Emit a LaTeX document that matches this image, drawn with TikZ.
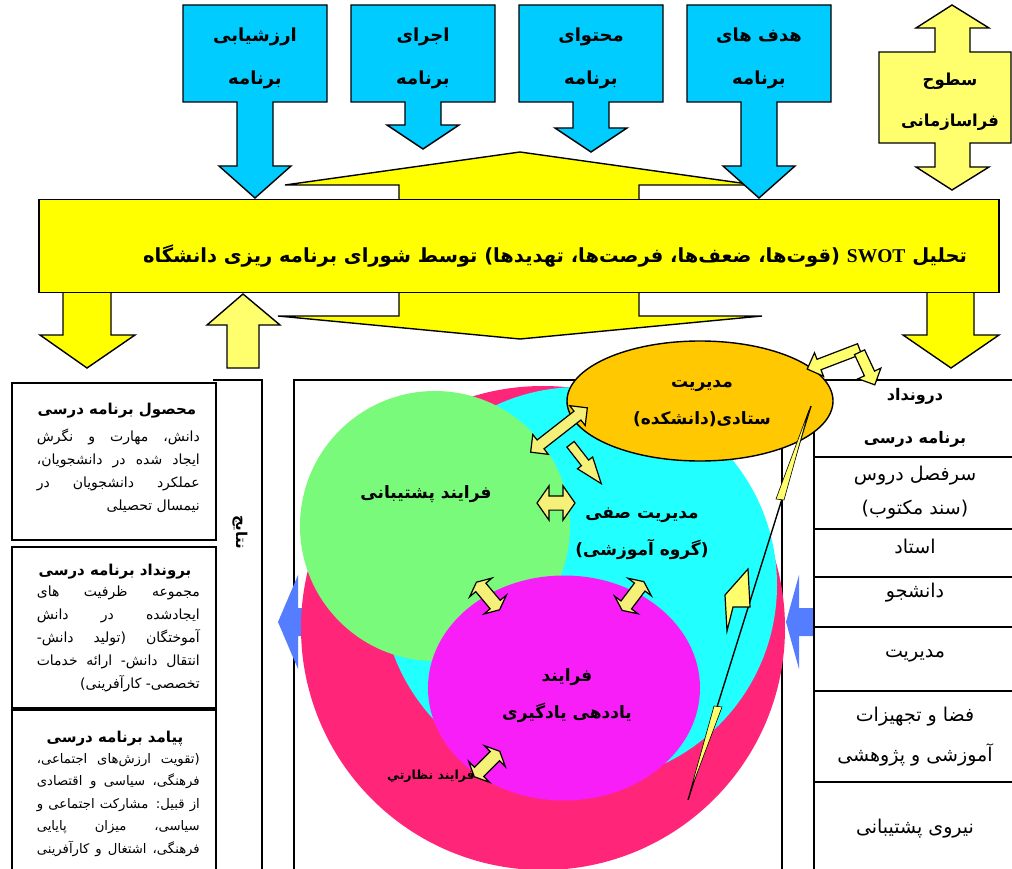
\documentclass[tikz,border=0pt]{standalone}
\usepackage{fontspec}
\newfontfamily\arabicfont[Script=Arabic]{DejaVu Sans}
\newfontfamily\latinfont{Liberation Serif}
\TeXXeTstate=1
\usetikzlibrary{shapes.geometric,shapes.arrows}

\definecolor{skyblue}{RGB}{0,204,255}
\definecolor{swotyellow}{RGB}{255,255,0}
\definecolor{paleyellow}{RGB}{255,255,110}
\definecolor{arrowyellow}{RGB}{245,240,120}
\definecolor{outerred}{RGB}{255,38,122}
\definecolor{innercyan}{RGB}{34,255,255}
\definecolor{leafgreen}{RGB}{122,250,122}
\definecolor{learnmagenta}{RGB}{248,30,248}
\definecolor{staffgold}{RGB}{255,200,0}
\definecolor{sideblue}{RGB}{85,125,255}

\newcommand{\fa}[1]{{\arabicfont\beginR #1\endR}}
% one justified line of a box text
\newcommand{\jline}[1]{\hbox to 163pt{\arabicfont\beginR #1\endR}}
% box with a down arrow under it: centre x, head top y, tip y
\newcommand{\downcallout}[3]{%
  \draw[calloutbox] (#1-72,5) -- (#1+72,5) -- (#1+72,102) -- (#1+18,102) -- (#1+18,#2)
    -- (#1+36,#2) -- (#1,#3) -- (#1-36,#2) -- (#1-18,#2) -- (#1-18,102) -- (#1-72,102) -- cycle;}

\tikzset{
  calloutbox/.style={draw=black,line width=1.4pt,fill=skyblue},
  blockarrow/.style={draw=black,line width=1.4pt,fill=swotyellow},
  smallarrow/.style={draw=black,line width=1.2pt,fill=arrowyellow,inner xsep=0pt},
  beam/.style={smallarrow,double arrow,minimum height=36,inner ysep=6pt,double arrow head extend=8,double arrow tip angle=130},
  headtext/.style={font=\bfseries\fontsize{18}{43}\selectfont,align=center},
  boxtitle/.style={font=\bfseries\fontsize{15}{20}\selectfont},
  boxbody/.style={font=\fontsize{14}{22.8}\selectfont,align=right,anchor=north east,inner sep=0pt},
  rowtext/.style={font=\fontsize{19}{34}\selectfont,align=center},
  circletext/.style={font=\bfseries\fontsize{17}{37}\selectfont,align=center},
}

\begin{document}
\begin{tikzpicture}[x=1pt,y=-1pt,line join=miter]
\useasboundingbox (0,0) rectangle (1012,869);

% yellow arrows through the SWOT box
\draw[blockarrow] (399,201) -- (399,185) -- (285,185) -- (520,152) -- (755,185) -- (639,185) -- (639,201);
\draw[blockarrow] (399,291) -- (399,316) -- (278,316) -- (520,339) -- (762,316) -- (639,316) -- (639,291);
\draw[blockarrow] (63,291) -- (63,335) -- (40,335) -- (87,368) -- (135,335) -- (111,335) -- (111,291);
\draw[blockarrow] (927,291) -- (927,335) -- (903,335) -- (951,368) -- (999,335) -- (974,335) -- (974,291);

% program parts
\downcallout{255}{166}{198}
\downcallout{423}{125}{149}
\downcallout{591}{128}{152}
\downcallout{759}{166}{198}
\node[headtext] (evaluation) at (255,58) {\fa{ارزشیابی}\\\fa{برنامه}};
\node[headtext] (execution) at (423,58) {\fa{اجرای}\\\fa{برنامه}};
\node[headtext] (content) at (591,58) {\fa{محتوای}\\\fa{برنامه}};
\node[headtext] (goals) at (759,58) {\fa{هدف های}\\\fa{برنامه}};

% supra-organisational levels
\draw[blockarrow,fill=paleyellow] (952,5) -- (989,28) -- (970,28) -- (970,52) -- (1011,52) -- (1011,143)
  -- (970,143) -- (970,167) -- (989,167) -- (952,190) -- (916,167) -- (935,167) -- (935,143)
  -- (879,143) -- (879,52) -- (935,52) -- (935,28) -- (916,28) -- cycle;
\node[headtext,font=\bfseries\fontsize{16.5}{41}\selectfont] (supra) at (950,102) {\fa{سطوح}\\\fa{فراسازمانی}};

% SWOT box
\node[draw=black,line width=1.4pt,fill=swotyellow,minimum width=960,minimum height=93] (swot) at (519,246) {};
\node[font=\bfseries\fontsize{19.5}{22}\selectfont] (swottext) at (555,256)
  {\fa{تحلیل {\latinfont\bfseries SWOT} (قوت‌ها، ضعف‌ها، فرصت‌ها، تهدیدها) توسط شورای برنامه ریزی دانشگاه}};
\draw[blockarrow,fill=paleyellow] (227,368) -- (227,325) -- (207,325) -- (243,294) -- (280,325) -- (259,325) -- (259,368) -- cycle;

% output boxes on the left
\draw[line width=1.4pt] (213,380) -- (262,380) -- (262,875);
\node[draw=black,line width=1.4pt,minimum width=204,minimum height=157] (product) at (114,461.5) {};
\node[draw=black,line width=1.4pt,minimum width=204,minimum height=161] (output) at (114,627.5) {};
\node[draw=black,line width=1.4pt,minimum width=204,minimum height=165] (outcome) at (114,792.5) {};
\node[boxtitle] (producttitle) at (117,411) {\fa{محصول برنامه درسی}};
\node[boxbody] (productbody) at (200,429) {\jline{دانش، مهارت و نگرش}\\\jline{ایجاد شده در دانشجویان،}\\\jline{عملکرد دانشجویان در}\\\fa{نیمسال تحصیلی}};
\node[boxtitle] (outputtitle) at (115,572) {\fa{برونداد برنامه درسی}};
\node[boxbody] (outputbody) at (200,586) {\jline{مجموعه ظرفیت های}\\\jline{ایجادشده در دانش}\\\jline{آموختگان (تولید دانش-}\\\jline{انتقال دانش- ارائه خدمات}\\\fa{تخصصی- کارآفرینی)}};
\node[boxtitle] (outcometitle) at (115,739) {\fa{پیامد برنامه درسی}};
\node[boxbody,font=\fontsize{13.2}{22.5}\selectfont] (outcomebody) at (200,753) {\jline{(تقویت ارزش‌های اجتماعی،}\\\jline{فرهنگی، سیاسی و اقتصادی}\\\jline{از قبیل: مشارکت اجتماعی و}\\\jline{سیاسی، میزان پایایی}\\\jline{فرهنگی، اشتغال و کارآفرینی}};
\node[font=\bfseries\fontsize{15}{17}\selectfont,rotate=-90] (results) at (240,532) {\fa{نتایج}};

% process frame and flow arrows
\draw[line width=1.4pt] (294,875) -- (294,380) -- (600,380);
\draw[line width=1.4pt] (782,400) -- (782,875);
\fill[sideblue] (278,622) -- (298,575) -- (298,608) -- (330,608) -- (330,636) -- (298,636) -- (298,669) -- cycle;
\fill[sideblue] (786,622) -- (799,575) -- (799,608) -- (813,608) -- (813,636) -- (799,636) -- (799,669) -- cycle;

% process circles
\node[circle,fill=outerred,minimum size=484,inner sep=0pt] (supervision) at (543,628) {};
\node[circle,fill=innercyan,minimum size=396,inner sep=0pt] (line) at (579,585) {};
\node[circle,fill=leafgreen,minimum size=270,inner sep=0pt] (support) at (435,526) {};
\node[ellipse,fill=learnmagenta,minimum width=272,minimum height=225,inner sep=0pt] (learning) at (564,688) {};
\node[circletext] (supporttext) at (426,494) {\fa{فرایند پشتیبانی}};
\node[circletext] (linetext) at (642,534) {\fa{مدیریت صفی}\\\fa{(گروه آموزشی)}};
\node[circletext] (learningtext) at (567,696) {\fa{فرایند}\\\fa{یاددهی یادگیری}};
\node[circletext,font=\bfseries\fontsize{12.5}{14}\selectfont] (supervisiontext) at (431,776) {\fa{فرایند نظارتي}};

% input table on the right
\draw[line width=1.4pt] (814,380) -- (1012,380);
\draw[line width=1.4pt] (814,380) -- (814,875);
\foreach \y in {457,529,577,627,691,782}
  \draw[line width=1.4pt] (814,\y) -- (1012,\y);
\node[rowtext,font=\bfseries\fontsize{16}{43}\selectfont] (inputhead) at (915,418) {\fa{درونداد}\\\fa{برنامه درسی}};
\node[rowtext] (syllabus) at (915,493) {\fa{سرفصل دروس}\\\fa{(سند مکتوب)}};
\node[rowtext] (teacher) at (915,546) {\fa{استاد}};
\node[rowtext] (student) at (915,593) {\fa{دانشجو}};
\node[rowtext] (management) at (915,656) {\fa{مدیریت}};
\node[rowtext,font=\fontsize{19}{40}\selectfont] (facilities) at (915,737) {\fa{فضا و تجهیزات}\\\fa{آموزشی و پژوهشی}};
\node[rowtext] (staff) at (915,829) {\fa{نیروی پشتیبانی}};

% faculty management
\node[ellipse,draw=black,line width=1.4pt,fill=staffgold,minimum width=266,minimum height=120,inner sep=0pt] (faculty) at (700,401) {};
\node[circletext] (facultytext) at (702,404) {\fa{مدیریت}\\\fa{ستادی(دانشکده)}};

% links between the parts
\node[smallarrow,double arrow,minimum height=72,inner ysep=5pt,double arrow head extend=7,rotate=38] (linkA) at (559,430) {};
\node[smallarrow,single arrow,minimum height=50,inner ysep=4pt,single arrow head extend=5,single arrow tip angle=40,rotate=-52] (linkB) at (582,459) {};
\node[smallarrow,double arrow,minimum height=38,inner ysep=6.5pt,double arrow head extend=10,double arrow tip angle=110] (linkC) at (556,503) {};
\node[beam,rotate=-50] (linkD) at (488,596) {};
\node[beam,rotate=53] (linkE) at (633,596) {};
\node[beam,rotate=45] (linkF) at (487,764) {};
\node[smallarrow,fill=paleyellow,single arrow,minimum height=56,inner ysep=5pt,single arrow head extend=7,rotate=201] (linkG) at (836,358) {};
\node[smallarrow,fill=paleyellow,single arrow,minimum height=36,inner ysep=5pt,single arrow head extend=7,rotate=-65] (linkH) at (866,366) {};

% lightning to the faculty
\draw[line width=1.4pt] (811,406) -- (688,800);
\draw[smallarrow,fill=paleyellow,line width=0.6pt] (809,410) -- (776,499) -- (784,500) -- cycle;
\draw[smallarrow,fill=paleyellow,line width=0.6pt] (714,706) -- (722,707) -- (690,792) -- cycle;
\draw[smallarrow,fill=paleyellow] (748,569) -- (725,595) -- (727,631) -- (733,607) -- (750,607) -- cycle;
\end{tikzpicture}
\end{document}
